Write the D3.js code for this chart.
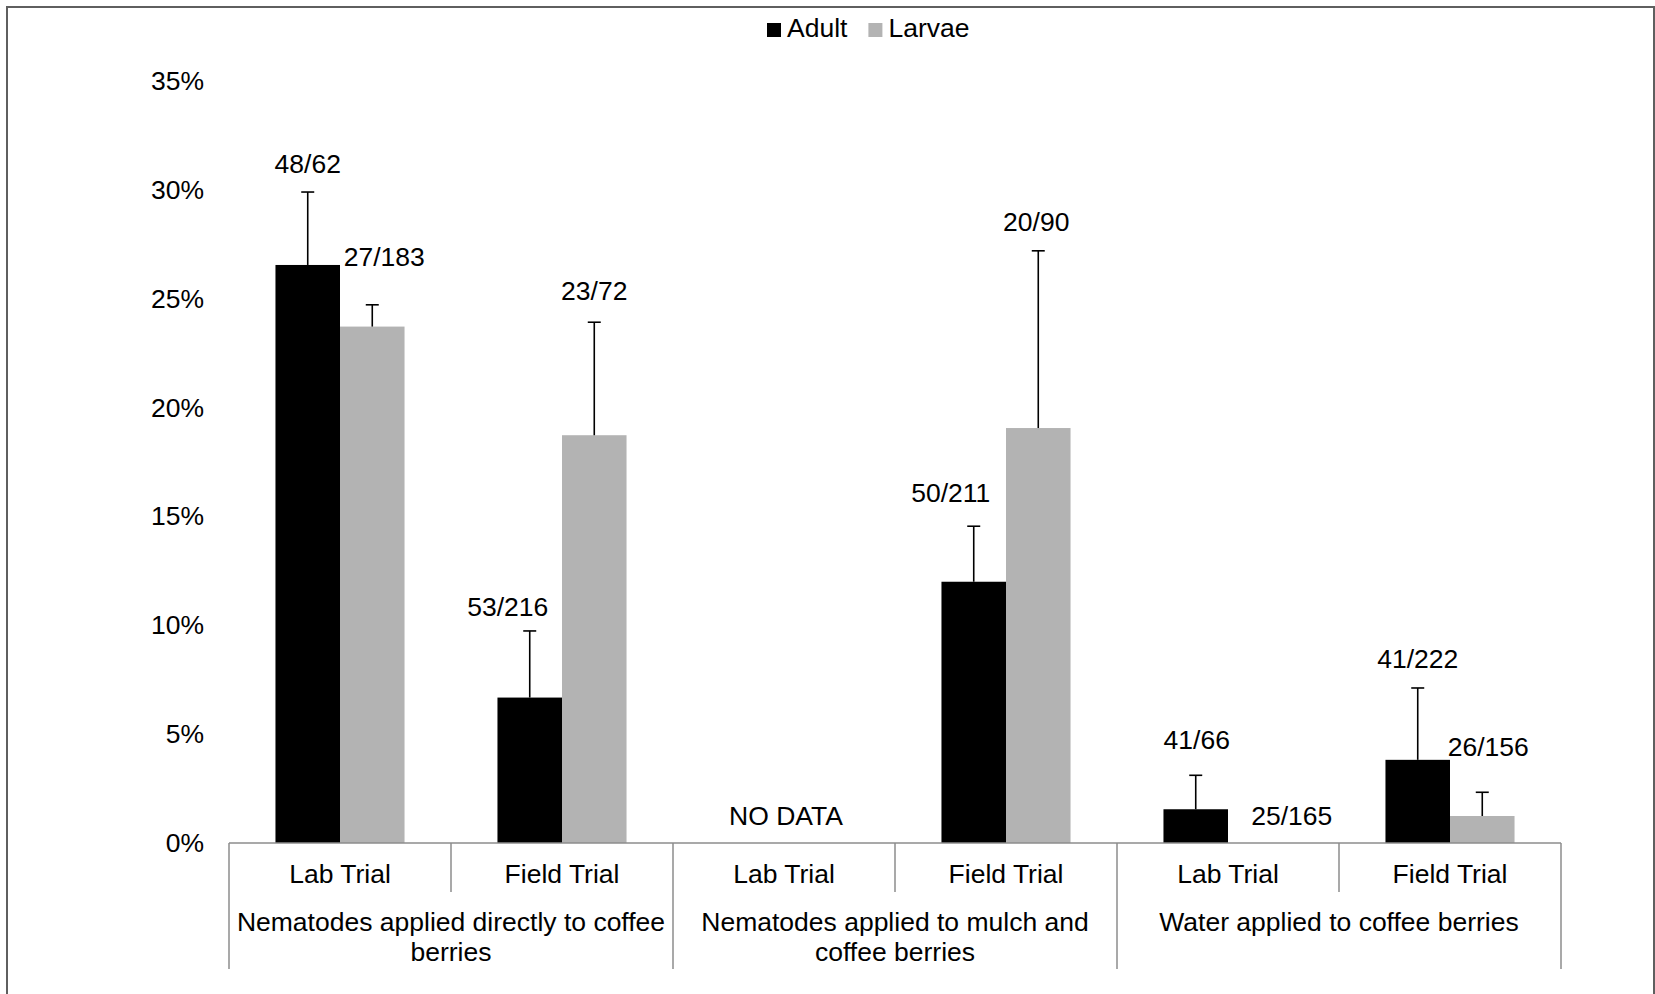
<!DOCTYPE html>
<html>
<head>
<meta charset="utf-8">
<script src="https://cdn.jsdelivr.net/npm/d3@7/dist/d3.min.js"></script>
<style>
  html, body { margin: 0; padding: 0; background: #fff; }
  svg { display: block; }
  text { font-family: "Liberation Sans", Arial, sans-serif; fill: #000; }
</style>
</head>
<body>
<svg id="chart" width="1655" height="994"></svg>
<script>
// ---- data ----
const categories = ["Lab Trial", "Field Trial", "Lab Trial", "Field Trial", "Lab Trial", "Field Trial"];
const groups = ["Nematodes applied directly to coffee berries", "Nematodes applied to mulch and coffee berries", "Water applied to coffee berries"];
const seriesNames = ["Adult", "Larvae"];
const adultValues  = [26.55, 6.68, 0, 12.0, 1.55, 3.82];
const larvaeValues = [23.72, 18.73, 0, 19.06, 0, 1.24];
const adultErr  = [3.35, 3.06, 0, 2.55, 1.56, 3.30];
const larvaeErr = [1.00, 5.19, 0, 8.14, 0, 1.09];
const adultLabels  = ["48/62", "53/216", "", "50/211", "41/66", "41/222"];
const larvaeLabels = ["27/183", "23/72", "", "20/90", "25/165", "26/156"];
const noDataIndex = 2;
const noDataText = "NO DATA";
const yTicks = [0, 5, 10, 15, 20, 25, 30, 35];

// label placement nudges (px): [dx, dy] relative to bar centre / error-bar top
const adultLabelOffsets  = [[0, -28], [-22, -23], [0, 0], [-23, -33], [1, -35], [0, -28]];
const larvaeLabelOffsets = [[12, -47], [0, -31], [0, 0], [-2, -28.5], [31.5, -26], [6, -45]];

const colors = { Adult: "#000000", Larvae: "#b3b3b3" };
const FONT = 26.5;
const DY = "0.32em";

const svg = d3.select("#chart");

// outer border
svg.append("rect")
  .attr("x", 7).attr("y", 7).attr("width", 1647).attr("height", 1100)
  .attr("fill", "none").attr("stroke", "#5f5f5f").attr("stroke-width", 2);

const plot = { left: 229, right: 1561, top: 81, bottom: 843 };

const y = d3.scaleLinear().domain([0, 35]).range([plot.bottom, plot.top]);
const x = d3.scaleBand().domain(d3.range(categories.length)).range([plot.left, plot.right]).paddingInner(0).paddingOuter(0);
const xs = d3.scaleBand().domain(seriesNames).range([0, x.bandwidth()]).paddingInner(0).paddingOuter(0.72);

// y axis labels (no line, no ticks)
const yAxis = d3.axisLeft(y).tickValues(yTicks).tickFormat(d => d + "%").tickSize(0).tickPadding(0);
const yg = svg.append("g").attr("transform", `translate(${204},0)`).call(yAxis);
yg.select(".domain").remove();
yg.selectAll("text").attr("font-size", FONT).attr("font-family", "Liberation Sans, Arial, sans-serif").attr("fill", "#000");

// bars
const rows = categories.map((c, i) => ({
  i,
  series: [
    { name: "Adult", v: adultValues[i], e: adultErr[i], label: adultLabels[i], off: adultLabelOffsets[i] },
    { name: "Larvae", v: larvaeValues[i], e: larvaeErr[i], label: larvaeLabels[i], off: larvaeLabelOffsets[i] }
  ]
}));

const catG = svg.selectAll("g.cat").data(rows).enter().append("g")
  .attr("class", "cat")
  .attr("transform", d => `translate(${x(d.i)},0)`);

catG.selectAll("rect.bar").data(d => d.series).enter().append("rect")
  .attr("class", "bar")
  .attr("x", s => xs(s.name))
  .attr("width", xs.bandwidth())
  .attr("y", s => y(s.v))
  .attr("height", s => y(0) - y(s.v))
  .attr("fill", s => colors[s.name]);

// error bars
const errG = catG.selectAll("g.err").data(d => d.series.filter(s => s.e > 0)).enter().append("g").attr("class", "err");
errG.append("line")
  .attr("x1", s => xs(s.name) + xs.bandwidth() / 2)
  .attr("x2", s => xs(s.name) + xs.bandwidth() / 2)
  .attr("y1", s => y(s.v))
  .attr("y2", s => y(s.v + s.e))
  .attr("stroke", "#000").attr("stroke-width", 1.6);
errG.append("line")
  .attr("x1", s => xs(s.name) + xs.bandwidth() / 2 - 6.5)
  .attr("x2", s => xs(s.name) + xs.bandwidth() / 2 + 6.5)
  .attr("y1", s => y(s.v + s.e))
  .attr("y2", s => y(s.v + s.e))
  .attr("stroke", "#000").attr("stroke-width", 1.6);

// data labels
catG.selectAll("text.lbl").data(d => d.series.filter(s => s.label)).enter().append("text")
  .attr("class", "lbl")
  .attr("x", s => xs(s.name) + xs.bandwidth() / 2 + s.off[0])
  .attr("y", s => y(s.v + s.e) + s.off[1])
  .attr("dy", DY)
  .attr("text-anchor", "middle")
  .attr("font-size", FONT)
  .text(s => s.label);

// NO DATA
svg.append("text")
  .attr("x", x(noDataIndex) + x.bandwidth() / 2 + 2)
  .attr("y", y(0) - 26)
  .attr("dy", DY)
  .attr("text-anchor", "middle")
  .attr("font-size", FONT)
  .text(noDataText);

// x axis
const axisColor = "#8c8c8c";
svg.append("line")
  .attr("x1", plot.left).attr("x2", plot.right)
  .attr("y1", y(0)).attr("y2", y(0))
  .attr("stroke", axisColor).attr("stroke-width", 1.5);

const boundaries = d3.range(categories.length + 1);
svg.selectAll("line.divider").data(boundaries).enter().append("line")
  .attr("class", "divider")
  .attr("x1", b => plot.left + b * x.step())
  .attr("x2", b => plot.left + b * x.step())
  .attr("y1", y(0))
  .attr("y2", b => (b % 2 === 0) ? 969 : 892)
  .attr("stroke", axisColor).attr("stroke-width", 1.5);

svg.selectAll("text.catlbl").data(categories).enter().append("text")
  .attr("class", "catlbl")
  .attr("x", (c, i) => x(i) + x.bandwidth() / 2)
  .attr("y", 875)
  .attr("dy", DY)
  .attr("text-anchor", "middle")
  .attr("font-size", FONT)
  .text(c => c);

// group labels with wrapping
const groupWidth = x.step() * 2;
groups.forEach((g, gi) => {
  const cx = plot.left + gi * groupWidth + groupWidth / 2;
  const t = svg.append("text")
    .attr("x", cx).attr("y", 922.5)
    .attr("text-anchor", "middle").attr("font-size", FONT);
  const words = g.split(" ");
  let line = [];
  let tspan = t.append("tspan").attr("x", cx).attr("dy", DY);
  words.forEach(w => {
    line.push(w);
    tspan.text(line.join(" "));
    if (tspan.node().getComputedTextLength() > groupWidth - 8 && line.length > 1) {
      line.pop();
      tspan.text(line.join(" "));
      line = [w];
      tspan = t.append("tspan").attr("x", cx).attr("dy", "30.5px").text(w);
    }
  });
});

// legend
const legend = svg.append("g").attr("transform", "translate(767,0)");
let lx = 0;
seriesNames.forEach(n => {
  legend.append("rect").attr("x", lx).attr("y", 23).attr("width", 14).attr("height", 14).attr("fill", colors[n]);
  const tt = legend.append("text").attr("x", lx + 20).attr("y", 29).attr("dy", DY)
    .attr("font-size", FONT).text(n);
  lx += 20 + tt.node().getComputedTextLength() + 21;
});
</script>
</body>
</html>
